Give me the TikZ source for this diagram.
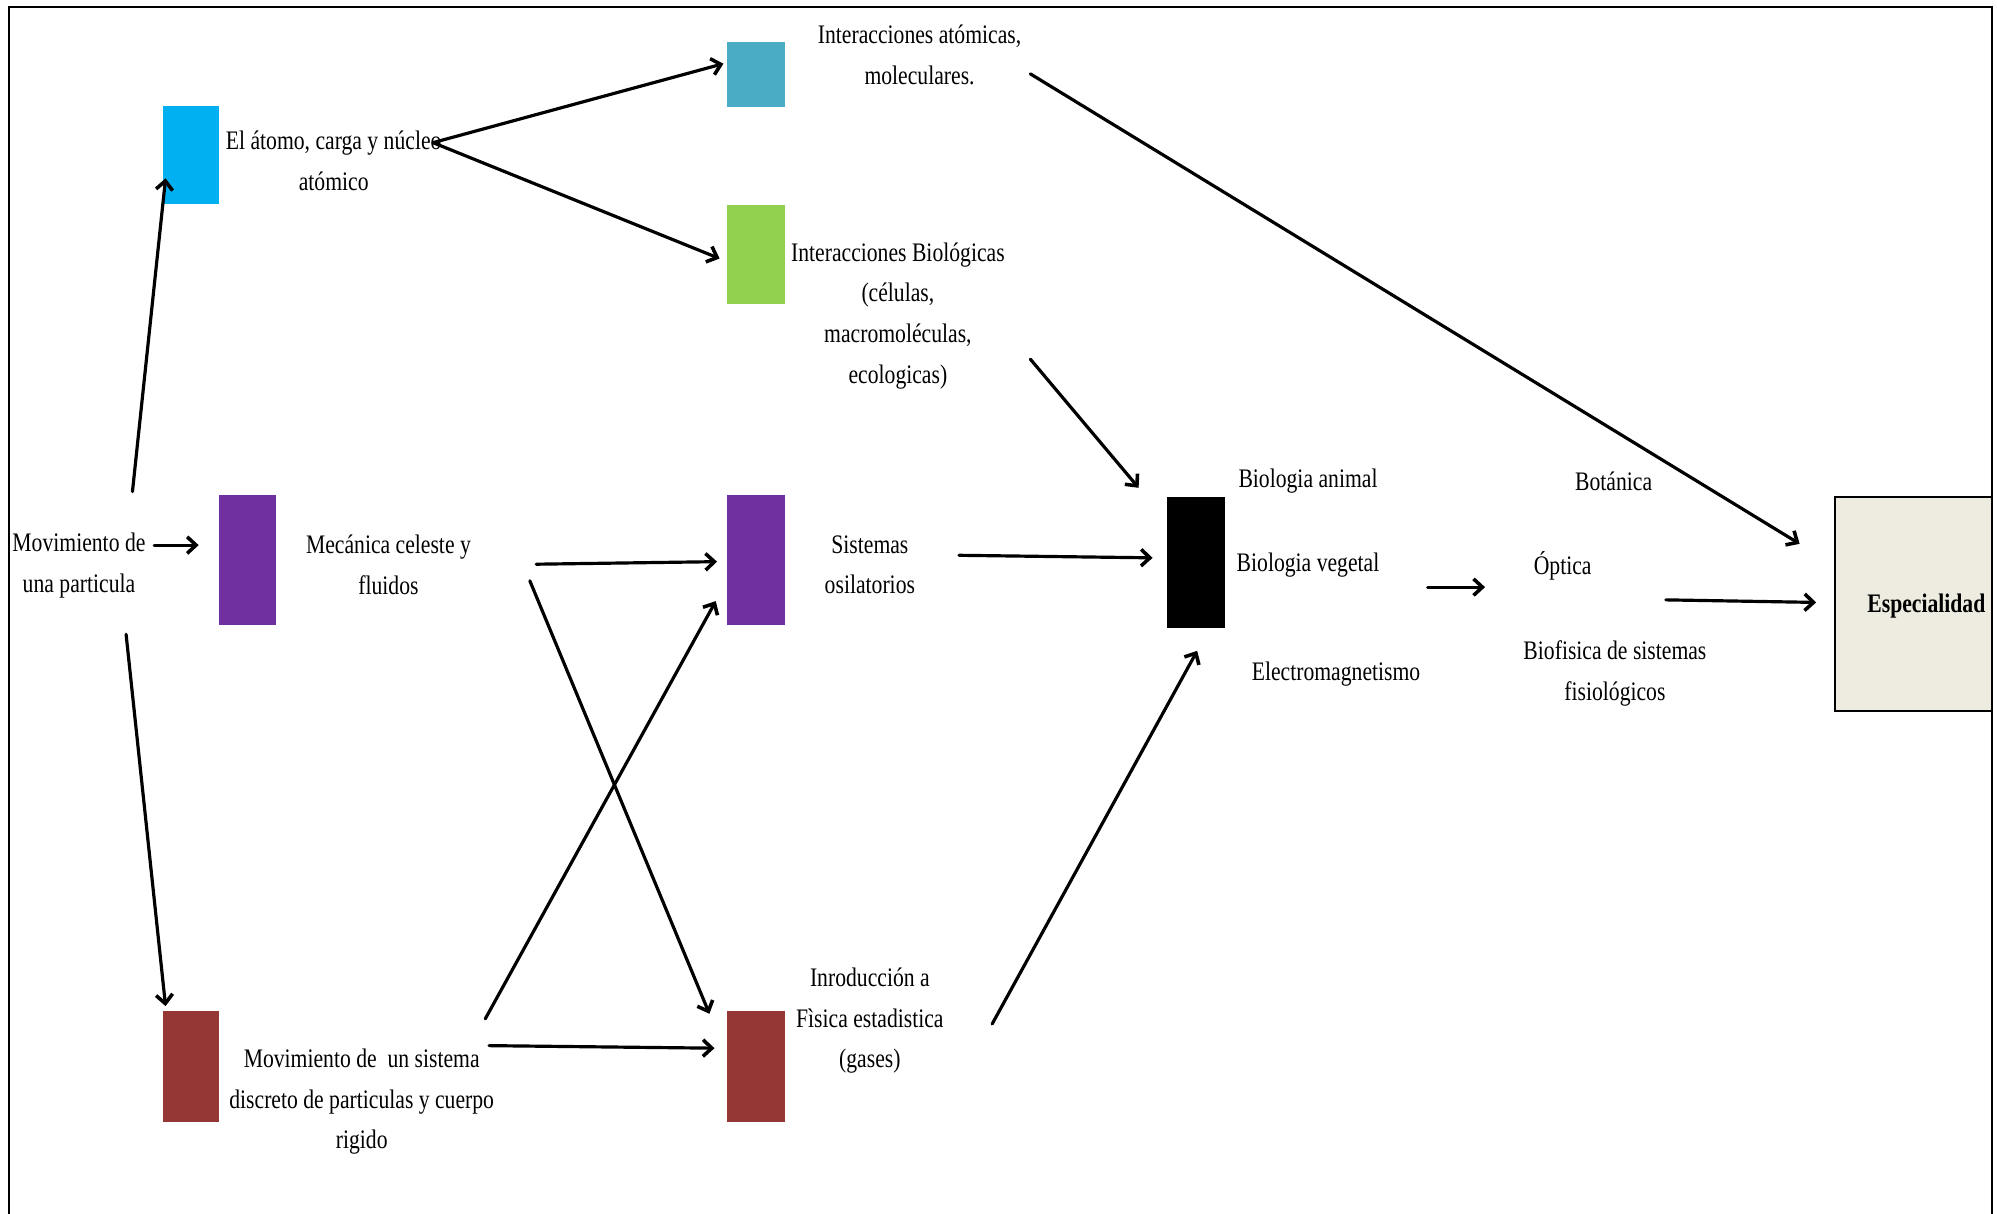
\documentclass[tikz,border=0pt]{standalone}
\usepackage{fontspec}
\setmainfont{Liberation Serif}[FakeStretch=0.81]
\usetikzlibrary{arrows.meta}

\definecolor{swblue}{HTML}{00B0F0}
\definecolor{swteal}{HTML}{4BACC6}
\definecolor{swgreen}{HTML}{92D050}
\definecolor{swpurple}{HTML}{7030A0}
\definecolor{swred}{HTML}{953735}
\definecolor{swcream}{HTML}{EEECE1}

\newcommand{\lblfont}{\fontsize{21}{32}\selectfont}

\tikzset{
  swatch/.style={draw=none, inner sep=0pt, outer sep=0pt},
  lbl/.style={align=center, font=\lblfont, inner sep=0pt},
  arr/.style={-{Straight Barb[length=7pt,width=13pt,line width=2.8pt]}, line width=2.5pt, line cap=round},
}

\begin{document}
\begin{tikzpicture}[x=1pt, y=-1pt]
  \useasboundingbox (0,0) rectangle (1568,953);

  % colour swatches
  \node[swatch, fill=swblue,   minimum width=44pt, minimum height=77pt]  (sA) at (150,121.5) {};
  \node[swatch, fill=swteal,   minimum width=45pt, minimum height=51pt]  (sB) at (593.5,58.5) {};
  \node[swatch, fill=swgreen,  minimum width=45pt, minimum height=78pt]  (sC) at (593.5,200) {};
  \node[swatch, fill=swpurple, minimum width=45pt, minimum height=102pt] (sD) at (194.5,440) {};
  \node[swatch, fill=swpurple, minimum width=45pt, minimum height=102pt] (sE) at (593.5,440) {};
  \node[swatch, fill=swred,    minimum width=44pt, minimum height=87pt]  (sF) at (150,837.5) {};
  \node[swatch, fill=swred,    minimum width=45pt, minimum height=87pt]  (sG) at (593.5,837.5) {};
  \node[swatch, fill=black,    minimum width=46pt, minimum height=103pt] (sH) at (939,441.5) {};

  % final box, cut off by the frame on the right
  \begin{scope}
    \clip (1430,380) rectangle (1564,570);
    \node[draw=black, line width=1.3pt, fill=swcream, inner sep=0pt,
          minimum width=140pt, minimum height=168pt] (esp) at (1511,474) {};
    \node[lbl, font=\lblfont\bfseries, anchor=west] (tEsp) at (1466,476) {Especialidad};
  \end{scope}

  % labels
  \node[lbl] (tMov)    at (62,444)    {Movimiento de\\una particula};
  \node[lbl] (tAtomo)  at (262,126.5) {El átomo, carga y núcleo\\atómico};
  \node[lbl] (tIntAt)  at (722,43)    {Interacciones atómicas,\\moleculares.};
  \node[lbl] (tIntBio) at (705,248)   {Interacciones Biológicas\\(células,\\macromoléculas,\\ecologicas)};
  \node[lbl] (tMec)    at (305,443.5) {Mecánica celeste y\\fluidos};
  \node[lbl] (tSis)    at (683,443.5) {Sistemas\\osilatorios};
  \node[lbl] (tMovSis) at (284,865)   {Movimiento de\ \ un sistema\\discreto de particulas y cuerpo\\rigido};
  \node[lbl] (tIntro)  at (683,801.5) {Inroducción a\\Fìsica estadistica\\(gases)};
  \node[lbl] (tBioAn)  at (1027,378)  {Biologia animal};
  \node[lbl] (tBioVe)  at (1027,444)  {Biologia vegetal};
  \node[lbl] (tElec)   at (1049,529)  {Electromagnetismo};
  \node[lbl] (tBot)    at (1267,378)  {Botánica};
  \node[lbl] (tOpt)    at (1227,444)  {Óptica};
  \node[lbl] (tBiof)   at (1268,529)  {Biofisica de sistemas\\fisiológicos};

  % connector ends
  \coordinate (pMovUp)   at (104,386);
  \coordinate (pMovRt)   at (121,428);
  \coordinate (pMovDn)   at (99,498);
  \coordinate (pAtomo)   at (340,112);
  \coordinate (pMec1)    at (421,443);
  \coordinate (pMec2)    at (416,456);
  \coordinate (pMovSis1) at (381,800);
  \coordinate (pMovSis2) at (384,821);
  \coordinate (pIntAt)   at (809,58);
  \coordinate (pIntBio)  at (809,282);
  \coordinate (pSis)     at (753,436);
  \coordinate (pIntro)   at (779,804);
  \coordinate (pBioVe)   at (1121,461);
  \coordinate (pOpt)     at (1308,471);

  \coordinate (qA)   at (130,140);
  \coordinate (qD)   at (156,428);
  \coordinate (qF)   at (130,790);
  \coordinate (qB)   at (568,50);
  \coordinate (qC)   at (565,203);
  \coordinate (qE1)  at (563,441);
  \coordinate (qG1)  at (557,796);
  \coordinate (qE2)  at (562,472);
  \coordinate (qG2)  at (561,823);
  \coordinate (qEsp1) at (1413,427);
  \coordinate (qH1)  at (894,383);
  \coordinate (qH2)  at (905,438);
  \coordinate (qH3)  at (940,511);
  \coordinate (qOpt) at (1166,461);
  \coordinate (qEsp2) at (1426,473);

  % connectors
  \draw[arr] (pMovUp) -- (qA);
  \draw[arr] (pMovRt) -- (qD);
  \draw[arr] (pMovDn) -- (qF);
  \draw[arr] (pAtomo) -- (qB);
  \draw[arr] (pAtomo) -- (qC);
  \draw[arr] (pMec1) -- (qE1);
  \draw[arr] (pMec2) -- (qG1);
  \draw[arr] (pMovSis1) -- (qE2);
  \draw[arr] (pMovSis2) -- (qG2);
  \draw[arr] (pIntAt) -- (qEsp1);
  \draw[arr] (pIntBio) -- (qH1);
  \draw[arr] (pSis) -- (qH2);
  \draw[arr] (pIntro) -- (qH3);
  \draw[arr] (pBioVe) -- (qOpt);
  \draw[arr] (pOpt) -- (qEsp2);

  % outer frame (open at the bottom)
  \draw[line width=2pt] (7,960) -- (7,5.5) -- (1564,5.5) -- (1564,960);
\end{tikzpicture}
\end{document}
